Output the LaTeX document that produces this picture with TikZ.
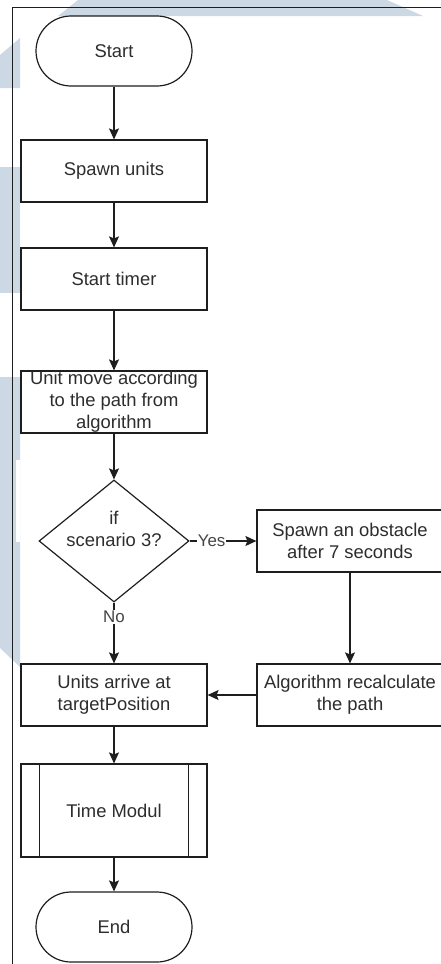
\documentclass[tikz,border=0pt]{standalone}
\usepackage{fontspec}
\setmainfont{Liberation Sans}
\usetikzlibrary{arrows.meta,shapes.geometric}

\definecolor{wmark}{RGB}{204,216,227}
\definecolor{ink}{RGB}{30,30,30}
\definecolor{txt}{RGB}{45,45,45}
\definecolor{lbl}{RGB}{70,70,70}

\tikzset{
  base/.style={draw=ink, line width=1.2pt, fill=white, text=txt, align=center,
    font=\fontsize{18.4}{22}\selectfont, inner sep=0pt},
  procbox/.style={base, rectangle, minimum width=186pt, minimum height=62pt},
  termbox/.style={base, rectangle, rounded corners=35pt, minimum width=156pt, minimum height=70pt},
  predef/.style={base, rectangle, minimum width=186pt, minimum height=93pt},
  decbox/.style={base, diamond, minimum width=150pt, minimum height=122pt},
  plaintext/.style={text=txt, align=center, font=\fontsize{18.4}{22}\selectfont, inner sep=0pt},
  flow/.style={draw=ink, line width=1.2pt, -{Stealth[length=11pt, width=10pt, inset=2pt]}},
  edgelbl/.style={fill=white, text=lbl, font=\fontsize{16.9}{20}\selectfont, inner sep=1pt},
}

\begin{document}
\begin{tikzpicture}[x=1pt, y=-1pt]
  \useasboundingbox (0,0) rectangle (441,964);
  \clip (0,0) rectangle (441,964);

  % faint background shapes
  \fill[wmark] (78,0) -- (387,0) -- (423,16) -- (58,16) -- cycle;
  \fill[wmark] (0,55) -- (20,38) -- (20,88) -- (0,88) -- cycle;
  \fill[wmark] (0,167) rectangle (20,293);
  \fill[wmark] (0,377) -- (20,377) -- (20,667) -- (0,648) -- cycle;
  \fill[white] (16,460) rectangle (20,542);

  % page frame
  \draw[ink, line width=1pt] (12.5,970) -- (12.5,7) -- (450,7);

  % flowchart nodes
  \node[termbox] (start) at (114,51) {Start};
  \node[procbox] (spawn) at (114,171) {Spawn units};
  \node[procbox] (timer) at (114,279) {Start timer};
  \node[procbox] (move) at (114,402) {Unit move according\\to the path from\\algorithm};
  \node[decbox] (dec) at (114,541) {};
  \node[plaintext] (dectext) at (114,529) {if\\scenario 3?};
  \node[procbox] (obst) at (350,541) {Spawn an obstacle\\after 7 seconds};
  \node[procbox] (algo) at (350,695) {Algorithm recalculate\\the path};
  \node[procbox] (units) at (114,695) {Units arrive at\\targetPosition};
  \node[predef] (tmod) at (114,810.5) {Time Modul};
  \draw[ink, line width=1.2pt] ([xshift=19pt]tmod.north west) -- ([xshift=19pt]tmod.south west);
  \draw[ink, line width=1.2pt] ([xshift=-19pt]tmod.north east) -- ([xshift=-19pt]tmod.south east);
  \node[termbox] (end) at (114,927) {End};

  % connectors
  \draw[flow] (start) -- (spawn);
  \draw[flow] (spawn) -- (timer);
  \draw[flow] (timer) -- (move);
  \draw[flow] (move) -- (dec);
  \draw[flow] (dec.east) -- node[edgelbl, pos=0.33] {Yes} (obst.west);
  \draw[flow] (dec.south) -- node[edgelbl, pos=0.24] {No} (units.north);
  \draw[flow] (obst) -- (algo);
  \draw[flow] (algo) -- (units);
  \draw[flow] (units) -- (tmod);
  \draw[flow] (tmod) -- (end);
\end{tikzpicture}
\end{document}
